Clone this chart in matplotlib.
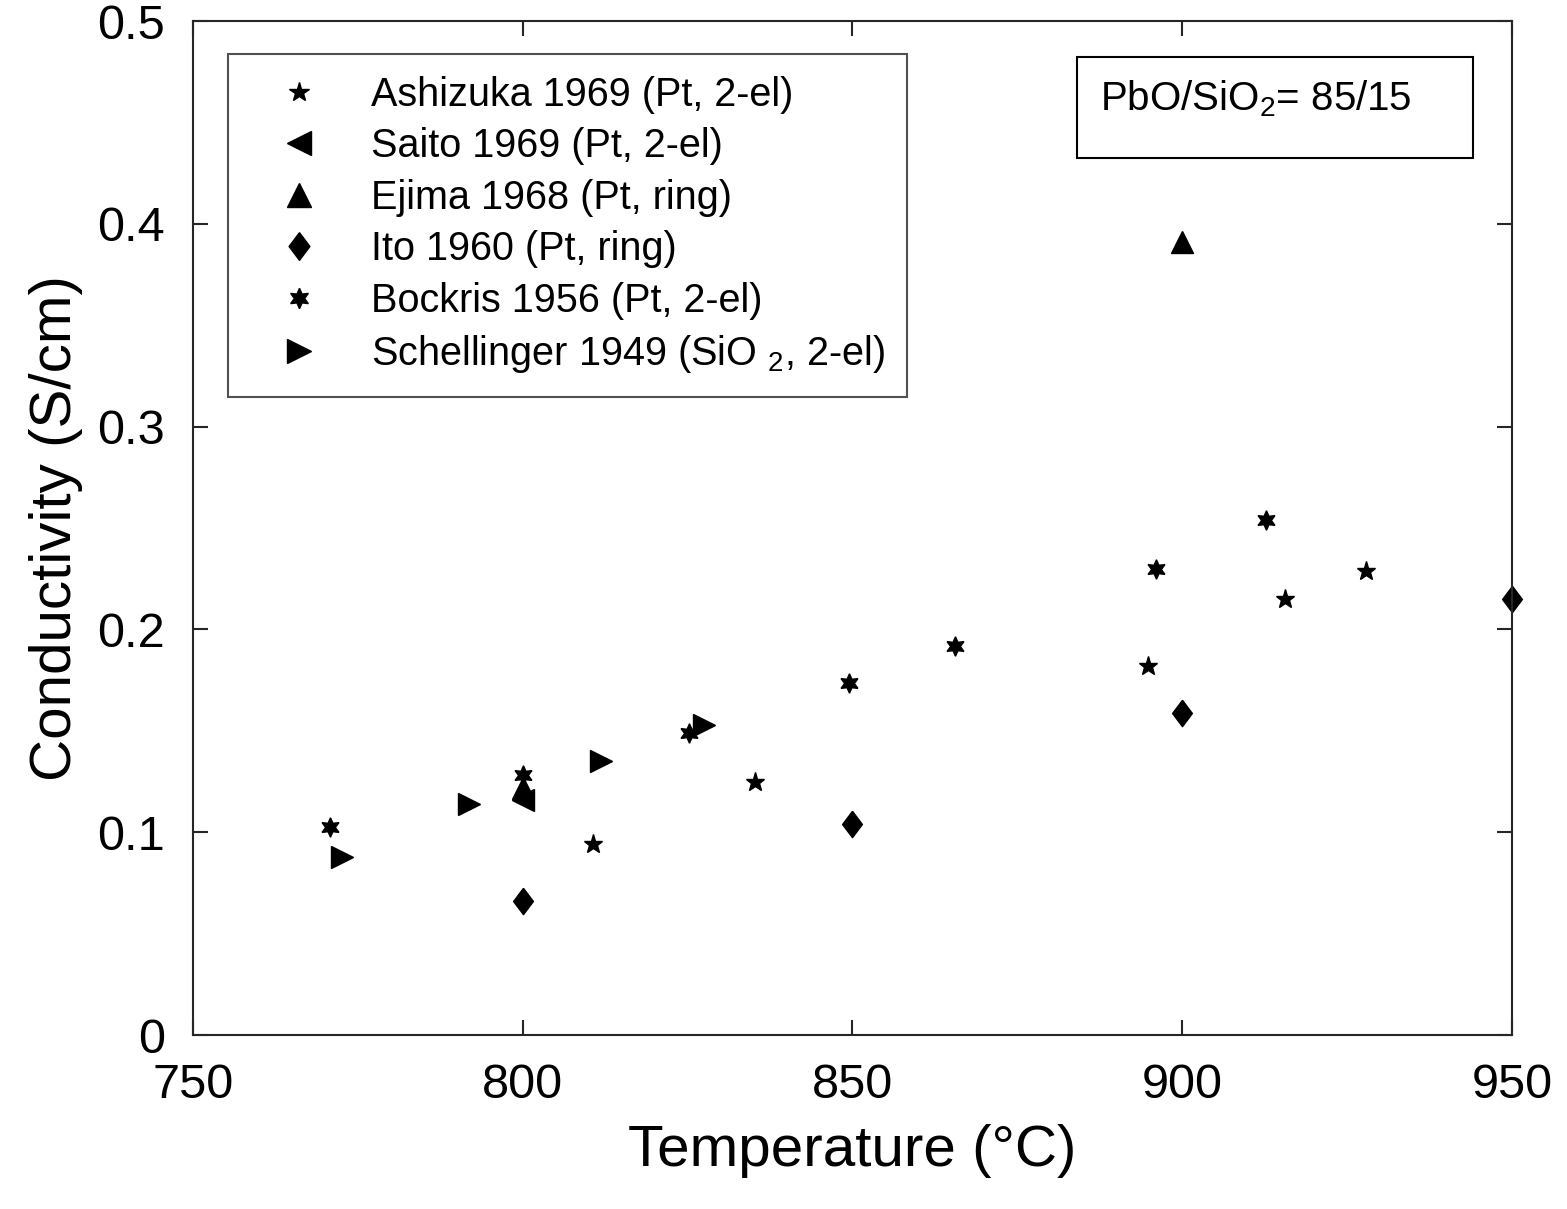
import matplotlib
matplotlib.use("Agg")
import matplotlib.pyplot as plt
from matplotlib.patches import Rectangle

plt.rcParams['font.family'] = ['Liberation Sans', 'DejaVu Sans']
plt.rcParams['mathtext.default'] = 'regular'

# data
ashizuka_T = [810.7, 835.2, 894.8, 915.6, 927.9]
ashizuka_s = [0.094, 0.125, 0.182, 0.215, 0.229]
saito_T = [800]
saito_s = [0.116]
ejima_T = [800, 900]
ejima_s = [0.122, 0.391]
ito_T = [800, 850, 900, 950]
ito_s = [0.066, 0.104, 0.159, 0.215]
bockris_T = [770.8, 800, 825.2, 849.5, 865.5, 896.0, 912.7]
bockris_s = [0.1026, 0.128, 0.149, 0.1736, 0.192, 0.230, 0.254]
schell_T = [772.6, 791.9, 811.9, 827.5]
schell_s = [0.088, 0.114, 0.135, 0.153]

diamond = [(0, 1), (0.75, 0), (0, -1), (-0.75, 0), (0, 1)]
hexagram = (6, 1, 0)

fig = plt.figure(figsize=(15.67, 12.09), dpi=100)
ax = fig.add_axes([0.123, 0.1439, 0.842, 0.8387])

ax.plot(ashizuka_T, ashizuka_s, ls='none', marker='*', ms=14, color='k', label='Ashizuka 1969 (Pt, 2-el)')
ax.plot(saito_T, saito_s, ls='none', marker='<', ms=16, color='k', label='Saito 1969 (Pt, 2-el)')
ax.plot(ejima_T, ejima_s, ls='none', marker='^', ms=16, color='k', label='Ejima 1968 (Pt, ring)')
ax.plot(ito_T, ito_s, ls='none', marker=diamond, ms=19, color='k', label='Ito 1960 (Pt, ring)', clip_on=False)
ax.plot(bockris_T, bockris_s, ls='none', marker=hexagram, ms=14, color='k', label='Bockris 1956 (Pt, 2-el)')
ax.plot(schell_T, schell_s, ls='none', marker='>', ms=16, color='k', label='Schellinger 1949 (SiO $_2$, 2-el)')

ax.set_xlim(750, 950)
ax.set_ylim(0, 0.5)
ax.set_xticks([750, 800, 850, 900, 950])
ax.set_yticks([0, 0.1, 0.2, 0.3, 0.4, 0.5])
ax.set_yticklabels(['0', '0.1', '0.2', '0.3', '0.4', '0.5'])
ax.tick_params(direction='in', length=11, width=1.5, top=True, right=True,
               labelsize=35, color='#262626')
ax.tick_params(axis='x', pad=20)
ax.tick_params(axis='y', pad=20)
for s in ax.spines.values():
    s.set_linewidth(1.5)
    s.set_color('#262626')

ax.set_xlabel('Temperature (°C)', fontsize=42, labelpad=12)
ax.set_ylabel('Conductivity (S/cm)', fontsize=42, labelpad=10)

leg = ax.legend(loc='upper left', bbox_to_anchor=(0.0265, 0.9675), borderaxespad=0,
                fontsize=28.5, frameon=True, fancybox=False, edgecolor='#262626',
                handlelength=2.5, handletextpad=0.58, labelspacing=0.34,
                borderpad=0.55, numpoints=1, markerscale=1.05)
leg.get_frame().set_linewidth(1.5)

ax.add_patch(Rectangle((0.670, 0.865), 0.300, 0.0996, transform=ax.transAxes,
                       fill=False, edgecolor='k', lw=1.5))
ax.text(0.6876, 0.923, 'PbO/SiO$_2$= 85/15', transform=ax.transAxes,
        fontsize=29, va='center', ha='left')

fig.savefig('out.png', dpi=100)
